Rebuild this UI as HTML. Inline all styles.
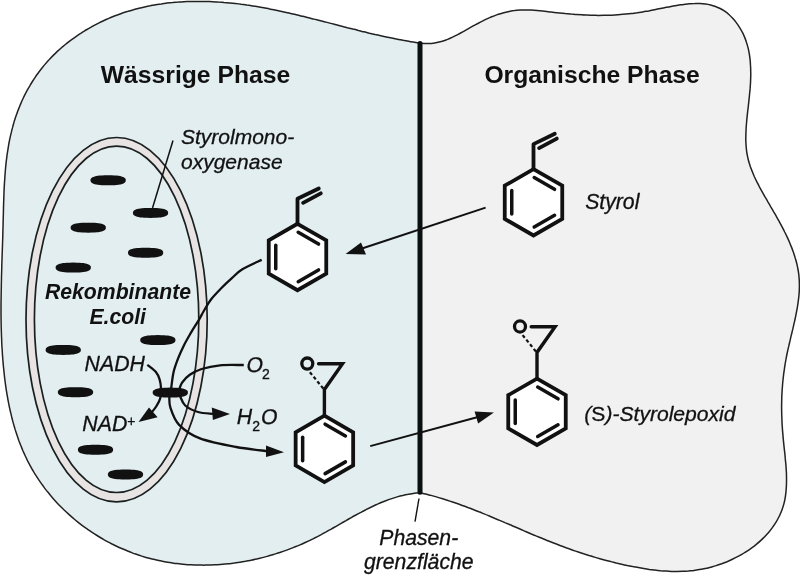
<!DOCTYPE html>
<html><head><meta charset="utf-8"><style>
html,body{margin:0;padding:0;background:#fff;width:800px;height:577px;overflow:hidden}
svg{display:block;will-change:transform}
</style></head><body>
<svg width="800" height="577" viewBox="0 0 800 577">
<path d="M420.0 43.0 C421.0 43.1 423.9 43.5 425.8 43.6 C427.7 43.6 429.6 43.6 431.5 43.4 C433.3 43.2 435.1 43.0 436.9 42.6 C438.7 42.2 440.5 41.7 442.3 41.2 C444.0 40.7 445.8 40.0 447.5 39.4 C449.2 38.7 450.9 37.9 452.6 37.1 C454.3 36.3 456.0 35.5 457.7 34.6 C459.4 33.7 461.1 32.8 462.7 31.9 C464.4 31.0 466.1 30.0 467.7 29.1 C469.4 28.1 471.1 27.2 472.7 26.2 C474.4 25.3 476.1 24.4 477.8 23.5 C479.4 22.6 481.1 21.7 482.8 20.9 C484.5 20.0 486.2 19.2 488.0 18.4 C489.7 17.7 491.4 16.9 493.1 16.3 C494.9 15.6 496.6 14.9 498.4 14.3 C500.1 13.7 501.9 13.2 503.7 12.7 C505.5 12.2 507.3 11.8 509.1 11.4 C510.9 11.1 512.7 10.8 514.5 10.6 C516.4 10.3 518.2 10.2 520.1 10.1 C521.9 10.0 523.8 9.9 525.7 9.9 C527.6 10.0 529.4 10.0 531.3 10.1 C533.2 10.2 535.1 10.4 537.0 10.5 C538.9 10.7 540.8 10.9 542.7 11.1 C544.6 11.3 546.5 11.5 548.4 11.7 C550.3 11.9 552.2 12.2 554.1 12.4 C556.0 12.6 557.9 12.8 559.7 13.0 C561.6 13.2 563.5 13.4 565.3 13.6 C567.2 13.7 569.0 13.9 570.9 14.1 C572.7 14.2 574.5 14.4 576.4 14.5 C578.2 14.6 580.0 14.7 581.9 14.8 C583.7 15.0 585.5 15.0 587.4 15.1 C589.2 15.2 591.0 15.2 592.8 15.3 C594.7 15.3 596.5 15.4 598.3 15.4 C600.1 15.4 602.0 15.4 603.8 15.3 C605.6 15.3 607.5 15.3 609.3 15.2 C611.1 15.2 613.0 15.1 614.8 15.0 C616.7 14.9 618.5 14.8 620.4 14.6 C622.2 14.5 624.1 14.3 625.9 14.1 C627.8 13.9 629.7 13.7 631.6 13.5 C633.4 13.3 635.3 13.0 637.2 12.8 C639.1 12.5 641.0 12.2 642.9 11.9 C644.9 11.6 646.8 11.2 648.7 10.9 C650.7 10.5 652.6 10.1 654.6 9.7 C656.5 9.3 658.5 8.9 660.4 8.5 C662.4 8.1 664.3 7.7 666.3 7.3 C668.2 7.0 670.2 6.6 672.1 6.2 C674.0 5.9 676.0 5.5 677.9 5.2 C679.8 4.9 681.7 4.7 683.6 4.4 C685.5 4.2 687.4 4.0 689.3 3.8 C691.2 3.7 693.0 3.6 694.8 3.6 C696.7 3.5 698.5 3.5 700.3 3.6 C702.0 3.7 703.8 3.9 705.5 4.1 C707.3 4.3 709.0 4.6 710.6 5.0 C712.3 5.4 713.9 5.9 715.5 6.5 C717.1 7.1 718.7 7.8 720.2 8.5 C721.7 9.3 723.2 10.2 724.7 11.2 C726.1 12.2 727.5 13.3 728.9 14.5 C730.2 15.7 731.5 17.0 732.7 18.3 C734.0 19.7 735.2 21.1 736.3 22.6 C737.4 24.1 738.5 25.7 739.5 27.3 C740.5 28.9 741.5 30.5 742.3 32.2 C743.2 33.9 744.0 35.7 744.7 37.4 C745.4 39.2 746.1 41.0 746.6 42.8 C747.2 44.6 747.7 46.5 748.2 48.3 C748.6 50.2 749.0 52.0 749.3 53.9 C749.6 55.8 749.9 57.7 750.1 59.6 C750.3 61.5 750.4 63.5 750.5 65.4 C750.7 67.3 750.7 69.3 750.7 71.2 C750.8 73.2 750.8 75.1 750.7 77.1 C750.7 79.0 750.6 81.0 750.5 83.0 C750.4 84.9 750.2 86.9 750.1 88.9 C749.9 90.8 749.7 92.8 749.5 94.7 C749.4 96.7 749.1 98.6 748.9 100.6 C748.7 102.5 748.5 104.4 748.3 106.4 C748.1 108.3 747.8 110.2 747.6 112.1 C747.4 114.0 747.2 115.9 747.0 117.8 C746.8 119.7 746.6 121.6 746.5 123.5 C746.3 125.3 746.2 127.2 746.1 129.0 C746.0 130.9 745.9 132.7 745.9 134.6 C745.8 136.4 745.8 138.2 745.8 140.1 C745.9 141.9 745.9 143.7 746.1 145.5 C746.2 147.3 746.4 149.1 746.6 150.8 C746.8 152.6 747.1 154.4 747.5 156.1 C747.8 157.9 748.3 159.6 748.7 161.3 C749.2 163.1 749.8 164.8 750.3 166.5 C750.9 168.2 751.6 169.9 752.3 171.6 C752.9 173.3 753.7 175.0 754.4 176.7 C755.2 178.4 756.0 180.1 756.9 181.8 C757.7 183.4 758.6 185.1 759.4 186.8 C760.3 188.5 761.3 190.1 762.2 191.8 C763.1 193.5 764.1 195.1 765.0 196.8 C766.0 198.5 767.0 200.1 767.9 201.8 C768.9 203.4 769.9 205.1 770.8 206.8 C771.8 208.4 772.8 210.1 773.7 211.8 C774.7 213.5 775.7 215.1 776.6 216.8 C777.5 218.5 778.5 220.2 779.4 221.8 C780.3 223.5 781.2 225.2 782.1 226.9 C783.0 228.6 783.9 230.3 784.7 232.0 C785.6 233.7 786.4 235.4 787.2 237.1 C788.0 238.8 788.8 240.5 789.5 242.2 C790.2 244.0 790.9 245.7 791.6 247.4 C792.3 249.1 792.9 250.9 793.5 252.6 C794.1 254.4 794.7 256.1 795.2 257.9 C795.8 259.6 796.2 261.4 796.7 263.2 C797.1 264.9 797.5 266.7 797.8 268.5 C798.2 270.3 798.5 272.1 798.7 273.9 C798.9 275.7 799.1 277.5 799.2 279.3 C799.3 281.1 799.4 283.0 799.4 284.8 C799.4 286.7 799.4 288.5 799.3 290.4 C799.2 292.2 799.1 294.1 798.9 295.9 C798.7 297.8 798.5 299.7 798.2 301.6 C798.0 303.4 797.7 305.3 797.4 307.2 C797.1 309.1 796.7 311.0 796.3 312.9 C796.0 314.8 795.6 316.6 795.2 318.5 C794.8 320.4 794.3 322.3 793.9 324.2 C793.5 326.1 793.0 328.0 792.6 329.9 C792.1 331.8 791.7 333.7 791.2 335.6 C790.8 337.5 790.3 339.4 789.9 341.2 C789.4 343.1 789.0 345.0 788.6 346.9 C788.1 348.7 787.7 350.6 787.3 352.5 C786.9 354.3 786.6 356.2 786.2 358.0 C785.9 359.9 785.5 361.7 785.2 363.6 C784.9 365.4 784.6 367.3 784.4 369.1 C784.1 370.9 783.8 372.7 783.6 374.6 C783.4 376.4 783.2 378.2 783.0 380.0 C782.8 381.9 782.6 383.7 782.5 385.5 C782.4 387.3 782.2 389.2 782.1 391.0 C782.0 392.8 781.9 394.6 781.8 396.5 C781.8 398.3 781.7 400.1 781.7 401.9 C781.6 403.8 781.6 405.6 781.6 407.5 C781.6 409.3 781.7 411.1 781.7 413.0 C781.7 414.9 781.8 416.7 781.9 418.6 C781.9 420.4 782.0 422.3 782.1 424.2 C782.2 426.1 782.4 428.0 782.5 429.9 C782.6 431.8 782.8 433.7 783.0 435.6 C783.1 437.5 783.3 439.4 783.5 441.4 C783.7 443.3 783.9 445.3 784.1 447.2 C784.3 449.2 784.5 451.1 784.8 453.1 C785.0 455.0 785.2 457.0 785.3 458.9 C785.5 460.9 785.7 462.8 785.9 464.8 C786.0 466.7 786.2 468.7 786.3 470.6 C786.4 472.6 786.5 474.5 786.5 476.4 C786.5 478.3 786.6 480.2 786.5 482.1 C786.5 484.0 786.5 485.9 786.3 487.8 C786.2 489.7 786.1 491.5 785.8 493.3 C785.6 495.2 785.4 497.0 785.0 498.8 C784.7 500.6 784.3 502.3 783.8 504.1 C783.4 505.8 782.8 507.5 782.2 509.2 C781.6 510.9 781.0 512.6 780.2 514.2 C779.5 515.8 778.7 517.4 777.8 519.0 C777.0 520.6 776.1 522.2 775.1 523.7 C774.1 525.2 773.1 526.7 772.0 528.1 C770.9 529.6 769.8 531.0 768.6 532.4 C767.4 533.8 766.1 535.2 764.9 536.5 C763.6 537.9 762.2 539.2 760.9 540.4 C759.5 541.7 758.1 542.9 756.6 544.1 C755.2 545.3 753.7 546.5 752.1 547.6 C750.6 548.7 749.1 549.8 747.5 550.9 C745.9 551.9 744.2 552.9 742.6 553.9 C740.9 554.9 739.3 555.8 737.6 556.7 C735.9 557.6 734.1 558.5 732.4 559.3 C730.6 560.1 728.9 560.9 727.1 561.7 C725.3 562.4 723.5 563.1 721.7 563.8 C719.9 564.4 718.0 565.1 716.2 565.6 C714.4 566.2 712.5 566.7 710.7 567.2 C708.8 567.7 707.0 568.2 705.1 568.6 C703.3 569.0 701.4 569.3 699.5 569.6 C697.7 569.9 695.8 570.2 694.0 570.4 C692.1 570.7 690.2 570.8 688.4 571.0 C686.5 571.1 684.7 571.2 682.8 571.3 C680.9 571.4 679.1 571.4 677.2 571.4 C675.3 571.4 673.5 571.4 671.6 571.4 C669.8 571.3 667.9 571.2 666.1 571.1 C664.2 571.0 662.3 570.8 660.5 570.7 C658.6 570.5 656.8 570.3 654.9 570.1 C653.1 569.9 651.2 569.6 649.4 569.4 C647.5 569.1 645.7 568.8 643.8 568.5 C642.0 568.2 640.1 567.9 638.3 567.6 C636.4 567.3 634.6 566.9 632.7 566.6 C630.9 566.2 629.1 565.8 627.2 565.5 C625.4 565.1 623.5 564.7 621.7 564.3 C619.9 563.8 618.1 563.4 616.2 563.0 C614.4 562.5 612.6 562.1 610.8 561.6 C608.9 561.2 607.1 560.7 605.3 560.2 C603.5 559.7 601.7 559.2 599.9 558.7 C598.0 558.2 596.2 557.7 594.4 557.1 C592.6 556.6 590.8 556.0 589.0 555.5 C587.2 554.9 585.4 554.3 583.6 553.8 C581.8 553.2 580.0 552.6 578.3 552.0 C576.5 551.4 574.7 550.8 572.9 550.2 C571.1 549.5 569.4 548.9 567.6 548.3 C565.8 547.6 564.0 547.0 562.3 546.3 C560.5 545.7 558.8 545.0 557.0 544.3 C555.2 543.6 553.5 542.9 551.7 542.2 C550.0 541.6 548.2 540.9 546.5 540.2 C544.7 539.4 543.0 538.7 541.3 538.0 C539.5 537.3 537.8 536.6 536.0 535.9 C534.3 535.1 532.6 534.4 530.8 533.7 C529.1 532.9 527.4 532.2 525.6 531.5 C523.9 530.7 522.2 530.0 520.5 529.2 C518.7 528.5 517.0 527.8 515.3 527.0 C513.5 526.3 511.8 525.5 510.1 524.8 C508.4 524.0 506.6 523.3 504.9 522.6 C503.2 521.8 501.4 521.1 499.7 520.4 C498.0 519.6 496.3 518.9 494.5 518.2 C492.8 517.4 491.1 516.7 489.3 516.0 C487.6 515.3 485.9 514.6 484.1 513.9 C482.4 513.2 480.6 512.4 478.9 511.8 C477.1 511.1 475.4 510.4 473.7 509.7 C471.9 509.0 470.2 508.3 468.4 507.7 C466.7 507.0 464.9 506.4 463.1 505.7 C461.4 505.1 459.6 504.4 457.8 503.8 C456.1 503.2 454.3 502.6 452.5 502.0 C450.7 501.4 449.0 500.8 447.2 500.2 C445.4 499.7 443.6 499.1 441.8 498.5 C440.0 498.0 438.2 497.5 436.4 496.9 C434.6 496.4 432.8 495.9 431.0 495.4 C429.2 494.9 427.3 494.5 425.5 494.0 C423.7 493.6 420.9 492.9 420.0 492.7 Z" fill="#f1f1f1"/>
<path d="M420.0 492.7 C419.0 492.8 416.0 493.1 414.1 493.3 C412.2 493.6 410.2 493.9 408.3 494.3 C406.4 494.6 404.6 495.0 402.7 495.5 C400.9 495.9 399.0 496.4 397.2 496.9 C395.4 497.4 393.6 498.0 391.8 498.6 C390.0 499.2 388.2 499.8 386.4 500.5 C384.7 501.1 382.9 501.8 381.2 502.5 C379.5 503.3 377.7 504.0 376.0 504.8 C374.3 505.6 372.6 506.4 370.9 507.2 C369.2 508.0 367.6 508.8 365.9 509.7 C364.2 510.5 362.5 511.4 360.9 512.3 C359.2 513.2 357.5 514.1 355.9 515.0 C354.2 515.9 352.6 516.8 350.9 517.8 C349.3 518.7 347.6 519.6 346.0 520.6 C344.4 521.5 342.7 522.5 341.1 523.4 C339.4 524.4 337.8 525.3 336.1 526.3 C334.5 527.2 332.8 528.1 331.2 529.1 C329.5 530.0 327.8 530.9 326.2 531.9 C324.5 532.8 322.8 533.7 321.2 534.6 C319.5 535.5 317.8 536.4 316.1 537.3 C314.4 538.1 312.7 539.0 311.0 539.8 C309.2 540.7 307.5 541.5 305.8 542.3 C304.0 543.1 302.3 543.8 300.5 544.6 C298.8 545.4 297.0 546.1 295.2 546.8 C293.4 547.5 291.7 548.2 289.9 548.9 C288.1 549.6 286.3 550.3 284.5 550.9 C282.6 551.5 280.8 552.2 279.0 552.8 C277.2 553.4 275.3 553.9 273.5 554.5 C271.7 555.1 269.8 555.6 268.0 556.1 C266.1 556.6 264.3 557.1 262.4 557.6 C260.5 558.1 258.7 558.5 256.8 558.9 C254.9 559.4 253.1 559.8 251.2 560.2 C249.3 560.6 247.4 560.9 245.5 561.3 C243.6 561.6 241.7 561.9 239.9 562.2 C238.0 562.5 236.1 562.8 234.2 563.1 C232.3 563.3 230.4 563.6 228.5 563.8 C226.6 564.0 224.7 564.2 222.7 564.3 C220.8 564.5 218.9 564.6 217.0 564.7 C215.1 564.8 213.2 564.9 211.3 565.0 C209.4 565.1 207.5 565.1 205.6 565.1 C203.7 565.2 201.8 565.1 199.9 565.1 C198.0 565.1 196.1 565.0 194.2 565.0 C192.3 564.9 190.4 564.8 188.5 564.7 C186.6 564.5 184.7 564.4 182.8 564.2 C180.9 564.0 179.0 563.8 177.1 563.6 C175.2 563.4 173.4 563.1 171.5 562.8 C169.6 562.5 167.7 562.2 165.9 561.9 C164.0 561.6 162.1 561.2 160.3 560.8 C158.4 560.5 156.6 560.0 154.7 559.6 C152.9 559.2 151.0 558.7 149.2 558.2 C147.4 557.7 145.6 557.2 143.7 556.7 C141.9 556.1 140.1 555.6 138.3 555.0 C136.5 554.4 134.7 553.7 132.9 553.1 C131.1 552.4 129.4 551.7 127.6 551.0 C125.8 550.3 124.1 549.6 122.3 548.8 C120.6 548.1 118.8 547.3 117.1 546.5 C115.4 545.7 113.7 544.8 112.0 544.0 C110.3 543.1 108.6 542.2 106.9 541.3 C105.2 540.4 103.5 539.4 101.9 538.5 C100.2 537.5 98.6 536.5 97.0 535.5 C95.3 534.5 93.7 533.5 92.1 532.4 C90.5 531.4 89.0 530.3 87.4 529.2 C85.8 528.1 84.3 527.0 82.7 525.8 C81.2 524.7 79.7 523.5 78.2 522.3 C76.7 521.1 75.2 519.9 73.8 518.7 C72.3 517.4 70.8 516.2 69.4 514.9 C68.0 513.6 66.6 512.3 65.2 511.0 C63.8 509.7 62.4 508.4 61.1 507.0 C59.8 505.7 58.4 504.3 57.1 502.9 C55.8 501.5 54.5 500.1 53.3 498.7 C52.0 497.2 50.8 495.8 49.6 494.3 C48.4 492.8 47.2 491.4 46.0 489.9 C44.8 488.4 43.7 486.8 42.6 485.3 C41.4 483.8 40.4 482.2 39.3 480.6 C38.2 479.1 37.2 477.5 36.2 475.9 C35.1 474.3 34.1 472.7 33.2 471.0 C32.2 469.4 31.3 467.8 30.4 466.1 C29.5 464.4 28.6 462.8 27.7 461.1 C26.9 459.4 26.1 457.7 25.3 456.0 C24.5 454.3 23.7 452.5 22.9 450.8 C22.2 449.0 21.5 447.3 20.8 445.5 C20.1 443.8 19.4 442.0 18.7 440.2 C18.1 438.4 17.5 436.6 16.9 434.8 C16.3 433.0 15.7 431.2 15.1 429.4 C14.6 427.5 14.0 425.7 13.5 423.9 C13.0 422.0 12.5 420.2 12.0 418.3 C11.6 416.5 11.1 414.6 10.7 412.7 C10.2 410.9 9.8 409.0 9.4 407.1 C9.0 405.2 8.6 403.3 8.3 401.5 C7.9 399.6 7.6 397.7 7.3 395.8 C6.9 393.9 6.6 392.0 6.3 390.1 C6.0 388.2 5.7 386.3 5.5 384.4 C5.2 382.5 5.0 380.5 4.7 378.6 C4.5 376.7 4.3 374.8 4.1 372.9 C3.9 371.0 3.7 369.1 3.5 367.2 C3.3 365.3 3.1 363.3 3.0 361.4 C2.8 359.5 2.7 357.6 2.5 355.7 C2.4 353.8 2.3 351.9 2.2 350.0 C2.0 348.1 1.9 346.2 1.8 344.3 C1.7 342.4 1.7 340.5 1.6 338.6 C1.5 336.7 1.4 334.8 1.4 332.9 C1.3 331.0 1.3 329.1 1.2 327.2 C1.2 325.3 1.1 323.4 1.1 321.5 C1.1 319.7 1.1 317.8 1.0 315.9 C1.0 314.0 1.0 312.1 1.0 310.2 C1.0 308.3 1.0 306.4 1.0 304.5 C1.0 302.6 1.1 300.7 1.1 298.8 C1.1 296.9 1.1 295.0 1.2 293.1 C1.2 291.3 1.2 289.4 1.3 287.5 C1.3 285.6 1.3 283.7 1.4 281.8 C1.4 279.9 1.5 278.0 1.5 276.1 C1.6 274.2 1.6 272.3 1.7 270.4 C1.7 268.5 1.8 266.6 1.8 264.7 C1.9 262.8 2.0 260.9 2.0 259.0 C2.1 257.1 2.1 255.2 2.2 253.3 C2.3 251.3 2.3 249.4 2.4 247.5 C2.5 245.6 2.5 243.7 2.6 241.8 C2.6 239.9 2.7 238.0 2.8 236.0 C2.8 234.1 2.9 232.2 2.9 230.3 C3.0 228.4 3.0 226.4 3.1 224.5 C3.1 222.6 3.2 220.6 3.2 218.7 C3.3 216.8 3.3 214.9 3.4 212.9 C3.4 211.0 3.5 209.1 3.5 207.1 C3.6 205.2 3.6 203.2 3.7 201.3 C3.8 199.4 3.8 197.4 3.9 195.5 C4.0 193.6 4.0 191.6 4.1 189.7 C4.2 187.8 4.3 185.9 4.4 183.9 C4.5 182.0 4.7 180.1 4.8 178.2 C4.9 176.2 5.1 174.3 5.2 172.4 C5.4 170.5 5.5 168.6 5.7 166.7 C5.9 164.7 6.1 162.8 6.3 160.9 C6.6 159.0 6.8 157.1 7.0 155.3 C7.3 153.4 7.6 151.5 7.9 149.6 C8.2 147.7 8.5 145.9 8.8 144.0 C9.2 142.1 9.5 140.3 9.9 138.4 C10.3 136.6 10.7 134.7 11.2 132.9 C11.6 131.0 12.1 129.2 12.6 127.4 C13.0 125.6 13.6 123.7 14.1 121.9 C14.7 120.1 15.2 118.3 15.8 116.6 C16.4 114.8 17.1 113.0 17.7 111.2 C18.4 109.5 19.1 107.7 19.8 106.0 C20.5 104.3 21.3 102.5 22.0 100.8 C22.8 99.1 23.6 97.4 24.4 95.7 C25.3 94.0 26.1 92.4 27.0 90.7 C27.9 89.1 28.8 87.4 29.8 85.8 C30.7 84.2 31.7 82.6 32.7 81.0 C33.7 79.4 34.7 77.9 35.8 76.3 C36.9 74.8 38.0 73.2 39.1 71.7 C40.2 70.2 41.4 68.7 42.6 67.2 C43.7 65.8 45.0 64.3 46.2 62.9 C47.5 61.5 48.7 60.1 50.0 58.7 C51.3 57.3 52.7 55.9 54.0 54.6 C55.4 53.3 56.8 51.9 58.2 50.6 C59.6 49.4 61.1 48.1 62.5 46.8 C64.0 45.6 65.5 44.4 67.0 43.2 C68.5 42.0 70.0 40.8 71.6 39.7 C73.1 38.5 74.7 37.4 76.3 36.3 C77.9 35.2 79.5 34.1 81.1 33.1 C82.7 32.0 84.4 31.0 86.0 30.0 C87.7 29.0 89.4 28.0 91.1 27.1 C92.8 26.1 94.5 25.2 96.2 24.3 C97.9 23.4 99.6 22.6 101.4 21.7 C103.1 20.9 104.9 20.1 106.6 19.3 C108.4 18.5 110.1 17.8 111.9 17.0 C113.7 16.3 115.5 15.6 117.3 15.0 C119.0 14.3 120.8 13.6 122.6 13.0 C124.5 12.4 126.3 11.8 128.1 11.3 C129.9 10.7 131.7 10.2 133.5 9.7 C135.4 9.1 137.2 8.7 139.0 8.2 C140.9 7.7 142.7 7.3 144.6 6.9 C146.4 6.5 148.3 6.1 150.1 5.8 C152.0 5.4 153.9 5.1 155.7 4.7 C157.6 4.4 159.5 4.1 161.3 3.9 C163.2 3.6 165.1 3.4 167.0 3.1 C168.8 2.9 170.7 2.7 172.6 2.6 C174.5 2.4 176.4 2.2 178.3 2.1 C180.2 1.9 182.1 1.8 184.0 1.7 C185.9 1.6 187.8 1.6 189.7 1.5 C191.6 1.5 193.5 1.4 195.4 1.4 C197.3 1.4 199.2 1.4 201.1 1.4 C203.0 1.4 204.9 1.5 206.8 1.5 C208.7 1.6 210.6 1.6 212.5 1.7 C214.4 1.8 216.4 1.9 218.3 2.1 C220.2 2.2 222.1 2.3 224.0 2.5 C225.9 2.6 227.8 2.8 229.7 3.0 C231.6 3.2 233.5 3.4 235.4 3.6 C237.3 3.8 239.2 4.0 241.1 4.3 C243.0 4.5 244.9 4.8 246.8 5.1 C248.7 5.3 250.6 5.6 252.5 5.9 C254.4 6.2 256.2 6.5 258.1 6.8 C260.0 7.2 261.9 7.5 263.8 7.8 C265.7 8.2 267.5 8.5 269.4 8.9 C271.3 9.3 273.1 9.6 275.0 10.0 C276.9 10.4 278.8 10.8 280.6 11.2 C282.5 11.6 284.4 12.0 286.2 12.4 C288.1 12.8 289.9 13.3 291.8 13.7 C293.7 14.1 295.5 14.6 297.4 15.0 C299.2 15.4 301.1 15.9 302.9 16.3 C304.8 16.8 306.6 17.3 308.5 17.7 C310.3 18.2 312.2 18.6 314.0 19.1 C315.9 19.6 317.7 20.0 319.6 20.5 C321.4 21.0 323.3 21.5 325.1 21.9 C327.0 22.4 328.8 22.9 330.7 23.4 C332.5 23.9 334.4 24.3 336.2 24.8 C338.1 25.3 339.9 25.8 341.8 26.2 C343.6 26.7 345.5 27.2 347.3 27.7 C349.2 28.1 351.0 28.6 352.9 29.1 C354.7 29.5 356.6 30.0 358.4 30.5 C360.3 30.9 362.1 31.4 364.0 31.8 C365.8 32.3 367.7 32.7 369.5 33.2 C371.4 33.6 373.2 34.0 375.1 34.5 C377.0 34.9 378.8 35.3 380.7 35.7 C382.5 36.1 384.4 36.5 386.3 36.9 C388.1 37.3 390.0 37.7 391.8 38.1 C393.7 38.5 395.6 38.9 397.4 39.2 C399.3 39.6 401.2 39.9 403.1 40.3 C404.9 40.6 406.8 40.9 408.7 41.2 C410.6 41.6 412.5 41.9 414.3 42.2 C416.2 42.5 419.1 42.9 420.0 43.0 Z" fill="#e3eef0"/>
<path d="M420.0 43.0 C421.0 43.1 423.9 43.5 425.8 43.6 C427.7 43.6 429.6 43.6 431.5 43.4 C433.3 43.2 435.1 43.0 436.9 42.6 C438.7 42.2 440.5 41.7 442.3 41.2 C444.0 40.7 445.8 40.0 447.5 39.4 C449.2 38.7 450.9 37.9 452.6 37.1 C454.3 36.3 456.0 35.5 457.7 34.6 C459.4 33.7 461.1 32.8 462.7 31.9 C464.4 31.0 466.1 30.0 467.7 29.1 C469.4 28.1 471.1 27.2 472.7 26.2 C474.4 25.3 476.1 24.4 477.8 23.5 C479.4 22.6 481.1 21.7 482.8 20.9 C484.5 20.0 486.2 19.2 488.0 18.4 C489.7 17.7 491.4 16.9 493.1 16.3 C494.9 15.6 496.6 14.9 498.4 14.3 C500.1 13.7 501.9 13.2 503.7 12.7 C505.5 12.2 507.3 11.8 509.1 11.4 C510.9 11.1 512.7 10.8 514.5 10.6 C516.4 10.3 518.2 10.2 520.1 10.1 C521.9 10.0 523.8 9.9 525.7 9.9 C527.6 10.0 529.4 10.0 531.3 10.1 C533.2 10.2 535.1 10.4 537.0 10.5 C538.9 10.7 540.8 10.9 542.7 11.1 C544.6 11.3 546.5 11.5 548.4 11.7 C550.3 11.9 552.2 12.2 554.1 12.4 C556.0 12.6 557.9 12.8 559.7 13.0 C561.6 13.2 563.5 13.4 565.3 13.6 C567.2 13.7 569.0 13.9 570.9 14.1 C572.7 14.2 574.5 14.4 576.4 14.5 C578.2 14.6 580.0 14.7 581.9 14.8 C583.7 15.0 585.5 15.0 587.4 15.1 C589.2 15.2 591.0 15.2 592.8 15.3 C594.7 15.3 596.5 15.4 598.3 15.4 C600.1 15.4 602.0 15.4 603.8 15.3 C605.6 15.3 607.5 15.3 609.3 15.2 C611.1 15.2 613.0 15.1 614.8 15.0 C616.7 14.9 618.5 14.8 620.4 14.6 C622.2 14.5 624.1 14.3 625.9 14.1 C627.8 13.9 629.7 13.7 631.6 13.5 C633.4 13.3 635.3 13.0 637.2 12.8 C639.1 12.5 641.0 12.2 642.9 11.9 C644.9 11.6 646.8 11.2 648.7 10.9 C650.7 10.5 652.6 10.1 654.6 9.7 C656.5 9.3 658.5 8.9 660.4 8.5 C662.4 8.1 664.3 7.7 666.3 7.3 C668.2 7.0 670.2 6.6 672.1 6.2 C674.0 5.9 676.0 5.5 677.9 5.2 C679.8 4.9 681.7 4.7 683.6 4.4 C685.5 4.2 687.4 4.0 689.3 3.8 C691.2 3.7 693.0 3.6 694.8 3.6 C696.7 3.5 698.5 3.5 700.3 3.6 C702.0 3.7 703.8 3.9 705.5 4.1 C707.3 4.3 709.0 4.6 710.6 5.0 C712.3 5.4 713.9 5.9 715.5 6.5 C717.1 7.1 718.7 7.8 720.2 8.5 C721.7 9.3 723.2 10.2 724.7 11.2 C726.1 12.2 727.5 13.3 728.9 14.5 C730.2 15.7 731.5 17.0 732.7 18.3 C734.0 19.7 735.2 21.1 736.3 22.6 C737.4 24.1 738.5 25.7 739.5 27.3 C740.5 28.9 741.5 30.5 742.3 32.2 C743.2 33.9 744.0 35.7 744.7 37.4 C745.4 39.2 746.1 41.0 746.6 42.8 C747.2 44.6 747.7 46.5 748.2 48.3 C748.6 50.2 749.0 52.0 749.3 53.9 C749.6 55.8 749.9 57.7 750.1 59.6 C750.3 61.5 750.4 63.5 750.5 65.4 C750.7 67.3 750.7 69.3 750.7 71.2 C750.8 73.2 750.8 75.1 750.7 77.1 C750.7 79.0 750.6 81.0 750.5 83.0 C750.4 84.9 750.2 86.9 750.1 88.9 C749.9 90.8 749.7 92.8 749.5 94.7 C749.4 96.7 749.1 98.6 748.9 100.6 C748.7 102.5 748.5 104.4 748.3 106.4 C748.1 108.3 747.8 110.2 747.6 112.1 C747.4 114.0 747.2 115.9 747.0 117.8 C746.8 119.7 746.6 121.6 746.5 123.5 C746.3 125.3 746.2 127.2 746.1 129.0 C746.0 130.9 745.9 132.7 745.9 134.6 C745.8 136.4 745.8 138.2 745.8 140.1 C745.9 141.9 745.9 143.7 746.1 145.5 C746.2 147.3 746.4 149.1 746.6 150.8 C746.8 152.6 747.1 154.4 747.5 156.1 C747.8 157.9 748.3 159.6 748.7 161.3 C749.2 163.1 749.8 164.8 750.3 166.5 C750.9 168.2 751.6 169.9 752.3 171.6 C752.9 173.3 753.7 175.0 754.4 176.7 C755.2 178.4 756.0 180.1 756.9 181.8 C757.7 183.4 758.6 185.1 759.4 186.8 C760.3 188.5 761.3 190.1 762.2 191.8 C763.1 193.5 764.1 195.1 765.0 196.8 C766.0 198.5 767.0 200.1 767.9 201.8 C768.9 203.4 769.9 205.1 770.8 206.8 C771.8 208.4 772.8 210.1 773.7 211.8 C774.7 213.5 775.7 215.1 776.6 216.8 C777.5 218.5 778.5 220.2 779.4 221.8 C780.3 223.5 781.2 225.2 782.1 226.9 C783.0 228.6 783.9 230.3 784.7 232.0 C785.6 233.7 786.4 235.4 787.2 237.1 C788.0 238.8 788.8 240.5 789.5 242.2 C790.2 244.0 790.9 245.7 791.6 247.4 C792.3 249.1 792.9 250.9 793.5 252.6 C794.1 254.4 794.7 256.1 795.2 257.9 C795.8 259.6 796.2 261.4 796.7 263.2 C797.1 264.9 797.5 266.7 797.8 268.5 C798.2 270.3 798.5 272.1 798.7 273.9 C798.9 275.7 799.1 277.5 799.2 279.3 C799.3 281.1 799.4 283.0 799.4 284.8 C799.4 286.7 799.4 288.5 799.3 290.4 C799.2 292.2 799.1 294.1 798.9 295.9 C798.7 297.8 798.5 299.7 798.2 301.6 C798.0 303.4 797.7 305.3 797.4 307.2 C797.1 309.1 796.7 311.0 796.3 312.9 C796.0 314.8 795.6 316.6 795.2 318.5 C794.8 320.4 794.3 322.3 793.9 324.2 C793.5 326.1 793.0 328.0 792.6 329.9 C792.1 331.8 791.7 333.7 791.2 335.6 C790.8 337.5 790.3 339.4 789.9 341.2 C789.4 343.1 789.0 345.0 788.6 346.9 C788.1 348.7 787.7 350.6 787.3 352.5 C786.9 354.3 786.6 356.2 786.2 358.0 C785.9 359.9 785.5 361.7 785.2 363.6 C784.9 365.4 784.6 367.3 784.4 369.1 C784.1 370.9 783.8 372.7 783.6 374.6 C783.4 376.4 783.2 378.2 783.0 380.0 C782.8 381.9 782.6 383.7 782.5 385.5 C782.4 387.3 782.2 389.2 782.1 391.0 C782.0 392.8 781.9 394.6 781.8 396.5 C781.8 398.3 781.7 400.1 781.7 401.9 C781.6 403.8 781.6 405.6 781.6 407.5 C781.6 409.3 781.7 411.1 781.7 413.0 C781.7 414.9 781.8 416.7 781.9 418.6 C781.9 420.4 782.0 422.3 782.1 424.2 C782.2 426.1 782.4 428.0 782.5 429.9 C782.6 431.8 782.8 433.7 783.0 435.6 C783.1 437.5 783.3 439.4 783.5 441.4 C783.7 443.3 783.9 445.3 784.1 447.2 C784.3 449.2 784.5 451.1 784.8 453.1 C785.0 455.0 785.2 457.0 785.3 458.9 C785.5 460.9 785.7 462.8 785.9 464.8 C786.0 466.7 786.2 468.7 786.3 470.6 C786.4 472.6 786.5 474.5 786.5 476.4 C786.5 478.3 786.6 480.2 786.5 482.1 C786.5 484.0 786.5 485.9 786.3 487.8 C786.2 489.7 786.1 491.5 785.8 493.3 C785.6 495.2 785.4 497.0 785.0 498.8 C784.7 500.6 784.3 502.3 783.8 504.1 C783.4 505.8 782.8 507.5 782.2 509.2 C781.6 510.9 781.0 512.6 780.2 514.2 C779.5 515.8 778.7 517.4 777.8 519.0 C777.0 520.6 776.1 522.2 775.1 523.7 C774.1 525.2 773.1 526.7 772.0 528.1 C770.9 529.6 769.8 531.0 768.6 532.4 C767.4 533.8 766.1 535.2 764.9 536.5 C763.6 537.9 762.2 539.2 760.9 540.4 C759.5 541.7 758.1 542.9 756.6 544.1 C755.2 545.3 753.7 546.5 752.1 547.6 C750.6 548.7 749.1 549.8 747.5 550.9 C745.9 551.9 744.2 552.9 742.6 553.9 C740.9 554.9 739.3 555.8 737.6 556.7 C735.9 557.6 734.1 558.5 732.4 559.3 C730.6 560.1 728.9 560.9 727.1 561.7 C725.3 562.4 723.5 563.1 721.7 563.8 C719.9 564.4 718.0 565.1 716.2 565.6 C714.4 566.2 712.5 566.7 710.7 567.2 C708.8 567.7 707.0 568.2 705.1 568.6 C703.3 569.0 701.4 569.3 699.5 569.6 C697.7 569.9 695.8 570.2 694.0 570.4 C692.1 570.7 690.2 570.8 688.4 571.0 C686.5 571.1 684.7 571.2 682.8 571.3 C680.9 571.4 679.1 571.4 677.2 571.4 C675.3 571.4 673.5 571.4 671.6 571.4 C669.8 571.3 667.9 571.2 666.1 571.1 C664.2 571.0 662.3 570.8 660.5 570.7 C658.6 570.5 656.8 570.3 654.9 570.1 C653.1 569.9 651.2 569.6 649.4 569.4 C647.5 569.1 645.7 568.8 643.8 568.5 C642.0 568.2 640.1 567.9 638.3 567.6 C636.4 567.3 634.6 566.9 632.7 566.6 C630.9 566.2 629.1 565.8 627.2 565.5 C625.4 565.1 623.5 564.7 621.7 564.3 C619.9 563.8 618.1 563.4 616.2 563.0 C614.4 562.5 612.6 562.1 610.8 561.6 C608.9 561.2 607.1 560.7 605.3 560.2 C603.5 559.7 601.7 559.2 599.9 558.7 C598.0 558.2 596.2 557.7 594.4 557.1 C592.6 556.6 590.8 556.0 589.0 555.5 C587.2 554.9 585.4 554.3 583.6 553.8 C581.8 553.2 580.0 552.6 578.3 552.0 C576.5 551.4 574.7 550.8 572.9 550.2 C571.1 549.5 569.4 548.9 567.6 548.3 C565.8 547.6 564.0 547.0 562.3 546.3 C560.5 545.7 558.8 545.0 557.0 544.3 C555.2 543.6 553.5 542.9 551.7 542.2 C550.0 541.6 548.2 540.9 546.5 540.2 C544.7 539.4 543.0 538.7 541.3 538.0 C539.5 537.3 537.8 536.6 536.0 535.9 C534.3 535.1 532.6 534.4 530.8 533.7 C529.1 532.9 527.4 532.2 525.6 531.5 C523.9 530.7 522.2 530.0 520.5 529.2 C518.7 528.5 517.0 527.8 515.3 527.0 C513.5 526.3 511.8 525.5 510.1 524.8 C508.4 524.0 506.6 523.3 504.9 522.6 C503.2 521.8 501.4 521.1 499.7 520.4 C498.0 519.6 496.3 518.9 494.5 518.2 C492.8 517.4 491.1 516.7 489.3 516.0 C487.6 515.3 485.9 514.6 484.1 513.9 C482.4 513.2 480.6 512.4 478.9 511.8 C477.1 511.1 475.4 510.4 473.7 509.7 C471.9 509.0 470.2 508.3 468.4 507.7 C466.7 507.0 464.9 506.4 463.1 505.7 C461.4 505.1 459.6 504.4 457.8 503.8 C456.1 503.2 454.3 502.6 452.5 502.0 C450.7 501.4 449.0 500.8 447.2 500.2 C445.4 499.7 443.6 499.1 441.8 498.5 C440.0 498.0 438.2 497.5 436.4 496.9 C434.6 496.4 432.8 495.9 431.0 495.4 C429.2 494.9 427.3 494.5 425.5 494.0 C423.7 493.6 420.9 492.9 420.0 492.7" fill="none" stroke="#222" stroke-width="1.5"/>
<path d="M420.0 492.7 C419.0 492.8 416.0 493.1 414.1 493.3 C412.2 493.6 410.2 493.9 408.3 494.3 C406.4 494.6 404.6 495.0 402.7 495.5 C400.9 495.9 399.0 496.4 397.2 496.9 C395.4 497.4 393.6 498.0 391.8 498.6 C390.0 499.2 388.2 499.8 386.4 500.5 C384.7 501.1 382.9 501.8 381.2 502.5 C379.5 503.3 377.7 504.0 376.0 504.8 C374.3 505.6 372.6 506.4 370.9 507.2 C369.2 508.0 367.6 508.8 365.9 509.7 C364.2 510.5 362.5 511.4 360.9 512.3 C359.2 513.2 357.5 514.1 355.9 515.0 C354.2 515.9 352.6 516.8 350.9 517.8 C349.3 518.7 347.6 519.6 346.0 520.6 C344.4 521.5 342.7 522.5 341.1 523.4 C339.4 524.4 337.8 525.3 336.1 526.3 C334.5 527.2 332.8 528.1 331.2 529.1 C329.5 530.0 327.8 530.9 326.2 531.9 C324.5 532.8 322.8 533.7 321.2 534.6 C319.5 535.5 317.8 536.4 316.1 537.3 C314.4 538.1 312.7 539.0 311.0 539.8 C309.2 540.7 307.5 541.5 305.8 542.3 C304.0 543.1 302.3 543.8 300.5 544.6 C298.8 545.4 297.0 546.1 295.2 546.8 C293.4 547.5 291.7 548.2 289.9 548.9 C288.1 549.6 286.3 550.3 284.5 550.9 C282.6 551.5 280.8 552.2 279.0 552.8 C277.2 553.4 275.3 553.9 273.5 554.5 C271.7 555.1 269.8 555.6 268.0 556.1 C266.1 556.6 264.3 557.1 262.4 557.6 C260.5 558.1 258.7 558.5 256.8 558.9 C254.9 559.4 253.1 559.8 251.2 560.2 C249.3 560.6 247.4 560.9 245.5 561.3 C243.6 561.6 241.7 561.9 239.9 562.2 C238.0 562.5 236.1 562.8 234.2 563.1 C232.3 563.3 230.4 563.6 228.5 563.8 C226.6 564.0 224.7 564.2 222.7 564.3 C220.8 564.5 218.9 564.6 217.0 564.7 C215.1 564.8 213.2 564.9 211.3 565.0 C209.4 565.1 207.5 565.1 205.6 565.1 C203.7 565.2 201.8 565.1 199.9 565.1 C198.0 565.1 196.1 565.0 194.2 565.0 C192.3 564.9 190.4 564.8 188.5 564.7 C186.6 564.5 184.7 564.4 182.8 564.2 C180.9 564.0 179.0 563.8 177.1 563.6 C175.2 563.4 173.4 563.1 171.5 562.8 C169.6 562.5 167.7 562.2 165.9 561.9 C164.0 561.6 162.1 561.2 160.3 560.8 C158.4 560.5 156.6 560.0 154.7 559.6 C152.9 559.2 151.0 558.7 149.2 558.2 C147.4 557.7 145.6 557.2 143.7 556.7 C141.9 556.1 140.1 555.6 138.3 555.0 C136.5 554.4 134.7 553.7 132.9 553.1 C131.1 552.4 129.4 551.7 127.6 551.0 C125.8 550.3 124.1 549.6 122.3 548.8 C120.6 548.1 118.8 547.3 117.1 546.5 C115.4 545.7 113.7 544.8 112.0 544.0 C110.3 543.1 108.6 542.2 106.9 541.3 C105.2 540.4 103.5 539.4 101.9 538.5 C100.2 537.5 98.6 536.5 97.0 535.5 C95.3 534.5 93.7 533.5 92.1 532.4 C90.5 531.4 89.0 530.3 87.4 529.2 C85.8 528.1 84.3 527.0 82.7 525.8 C81.2 524.7 79.7 523.5 78.2 522.3 C76.7 521.1 75.2 519.9 73.8 518.7 C72.3 517.4 70.8 516.2 69.4 514.9 C68.0 513.6 66.6 512.3 65.2 511.0 C63.8 509.7 62.4 508.4 61.1 507.0 C59.8 505.7 58.4 504.3 57.1 502.9 C55.8 501.5 54.5 500.1 53.3 498.7 C52.0 497.2 50.8 495.8 49.6 494.3 C48.4 492.8 47.2 491.4 46.0 489.9 C44.8 488.4 43.7 486.8 42.6 485.3 C41.4 483.8 40.4 482.2 39.3 480.6 C38.2 479.1 37.2 477.5 36.2 475.9 C35.1 474.3 34.1 472.7 33.2 471.0 C32.2 469.4 31.3 467.8 30.4 466.1 C29.5 464.4 28.6 462.8 27.7 461.1 C26.9 459.4 26.1 457.7 25.3 456.0 C24.5 454.3 23.7 452.5 22.9 450.8 C22.2 449.0 21.5 447.3 20.8 445.5 C20.1 443.8 19.4 442.0 18.7 440.2 C18.1 438.4 17.5 436.6 16.9 434.8 C16.3 433.0 15.7 431.2 15.1 429.4 C14.6 427.5 14.0 425.7 13.5 423.9 C13.0 422.0 12.5 420.2 12.0 418.3 C11.6 416.5 11.1 414.6 10.7 412.7 C10.2 410.9 9.8 409.0 9.4 407.1 C9.0 405.2 8.6 403.3 8.3 401.5 C7.9 399.6 7.6 397.7 7.3 395.8 C6.9 393.9 6.6 392.0 6.3 390.1 C6.0 388.2 5.7 386.3 5.5 384.4 C5.2 382.5 5.0 380.5 4.7 378.6 C4.5 376.7 4.3 374.8 4.1 372.9 C3.9 371.0 3.7 369.1 3.5 367.2 C3.3 365.3 3.1 363.3 3.0 361.4 C2.8 359.5 2.7 357.6 2.5 355.7 C2.4 353.8 2.3 351.9 2.2 350.0 C2.0 348.1 1.9 346.2 1.8 344.3 C1.7 342.4 1.7 340.5 1.6 338.6 C1.5 336.7 1.4 334.8 1.4 332.9 C1.3 331.0 1.3 329.1 1.2 327.2 C1.2 325.3 1.1 323.4 1.1 321.5 C1.1 319.7 1.1 317.8 1.0 315.9 C1.0 314.0 1.0 312.1 1.0 310.2 C1.0 308.3 1.0 306.4 1.0 304.5 C1.0 302.6 1.1 300.7 1.1 298.8 C1.1 296.9 1.1 295.0 1.2 293.1 C1.2 291.3 1.2 289.4 1.3 287.5 C1.3 285.6 1.3 283.7 1.4 281.8 C1.4 279.9 1.5 278.0 1.5 276.1 C1.6 274.2 1.6 272.3 1.7 270.4 C1.7 268.5 1.8 266.6 1.8 264.7 C1.9 262.8 2.0 260.9 2.0 259.0 C2.1 257.1 2.1 255.2 2.2 253.3 C2.3 251.3 2.3 249.4 2.4 247.5 C2.5 245.6 2.5 243.7 2.6 241.8 C2.6 239.9 2.7 238.0 2.8 236.0 C2.8 234.1 2.9 232.2 2.9 230.3 C3.0 228.4 3.0 226.4 3.1 224.5 C3.1 222.6 3.2 220.6 3.2 218.7 C3.3 216.8 3.3 214.9 3.4 212.9 C3.4 211.0 3.5 209.1 3.5 207.1 C3.6 205.2 3.6 203.2 3.7 201.3 C3.8 199.4 3.8 197.4 3.9 195.5 C4.0 193.6 4.0 191.6 4.1 189.7 C4.2 187.8 4.3 185.9 4.4 183.9 C4.5 182.0 4.7 180.1 4.8 178.2 C4.9 176.2 5.1 174.3 5.2 172.4 C5.4 170.5 5.5 168.6 5.7 166.7 C5.9 164.7 6.1 162.8 6.3 160.9 C6.6 159.0 6.8 157.1 7.0 155.3 C7.3 153.4 7.6 151.5 7.9 149.6 C8.2 147.7 8.5 145.9 8.8 144.0 C9.2 142.1 9.5 140.3 9.9 138.4 C10.3 136.6 10.7 134.7 11.2 132.9 C11.6 131.0 12.1 129.2 12.6 127.4 C13.0 125.6 13.6 123.7 14.1 121.9 C14.7 120.1 15.2 118.3 15.8 116.6 C16.4 114.8 17.1 113.0 17.7 111.2 C18.4 109.5 19.1 107.7 19.8 106.0 C20.5 104.3 21.3 102.5 22.0 100.8 C22.8 99.1 23.6 97.4 24.4 95.7 C25.3 94.0 26.1 92.4 27.0 90.7 C27.9 89.1 28.8 87.4 29.8 85.8 C30.7 84.2 31.7 82.6 32.7 81.0 C33.7 79.4 34.7 77.9 35.8 76.3 C36.9 74.8 38.0 73.2 39.1 71.7 C40.2 70.2 41.4 68.7 42.6 67.2 C43.7 65.8 45.0 64.3 46.2 62.9 C47.5 61.5 48.7 60.1 50.0 58.7 C51.3 57.3 52.7 55.9 54.0 54.6 C55.4 53.3 56.8 51.9 58.2 50.6 C59.6 49.4 61.1 48.1 62.5 46.8 C64.0 45.6 65.5 44.4 67.0 43.2 C68.5 42.0 70.0 40.8 71.6 39.7 C73.1 38.5 74.7 37.4 76.3 36.3 C77.9 35.2 79.5 34.1 81.1 33.1 C82.7 32.0 84.4 31.0 86.0 30.0 C87.7 29.0 89.4 28.0 91.1 27.1 C92.8 26.1 94.5 25.2 96.2 24.3 C97.9 23.4 99.6 22.6 101.4 21.7 C103.1 20.9 104.9 20.1 106.6 19.3 C108.4 18.5 110.1 17.8 111.9 17.0 C113.7 16.3 115.5 15.6 117.3 15.0 C119.0 14.3 120.8 13.6 122.6 13.0 C124.5 12.4 126.3 11.8 128.1 11.3 C129.9 10.7 131.7 10.2 133.5 9.7 C135.4 9.1 137.2 8.7 139.0 8.2 C140.9 7.7 142.7 7.3 144.6 6.9 C146.4 6.5 148.3 6.1 150.1 5.8 C152.0 5.4 153.9 5.1 155.7 4.7 C157.6 4.4 159.5 4.1 161.3 3.9 C163.2 3.6 165.1 3.4 167.0 3.1 C168.8 2.9 170.7 2.7 172.6 2.6 C174.5 2.4 176.4 2.2 178.3 2.1 C180.2 1.9 182.1 1.8 184.0 1.7 C185.9 1.6 187.8 1.6 189.7 1.5 C191.6 1.5 193.5 1.4 195.4 1.4 C197.3 1.4 199.2 1.4 201.1 1.4 C203.0 1.4 204.9 1.5 206.8 1.5 C208.7 1.6 210.6 1.6 212.5 1.7 C214.4 1.8 216.4 1.9 218.3 2.1 C220.2 2.2 222.1 2.3 224.0 2.5 C225.9 2.6 227.8 2.8 229.7 3.0 C231.6 3.2 233.5 3.4 235.4 3.6 C237.3 3.8 239.2 4.0 241.1 4.3 C243.0 4.5 244.9 4.8 246.8 5.1 C248.7 5.3 250.6 5.6 252.5 5.9 C254.4 6.2 256.2 6.5 258.1 6.8 C260.0 7.2 261.9 7.5 263.8 7.8 C265.7 8.2 267.5 8.5 269.4 8.9 C271.3 9.3 273.1 9.6 275.0 10.0 C276.9 10.4 278.8 10.8 280.6 11.2 C282.5 11.6 284.4 12.0 286.2 12.4 C288.1 12.8 289.9 13.3 291.8 13.7 C293.7 14.1 295.5 14.6 297.4 15.0 C299.2 15.4 301.1 15.9 302.9 16.3 C304.8 16.8 306.6 17.3 308.5 17.7 C310.3 18.2 312.2 18.6 314.0 19.1 C315.9 19.6 317.7 20.0 319.6 20.5 C321.4 21.0 323.3 21.5 325.1 21.9 C327.0 22.4 328.8 22.9 330.7 23.4 C332.5 23.9 334.4 24.3 336.2 24.8 C338.1 25.3 339.9 25.8 341.8 26.2 C343.6 26.7 345.5 27.2 347.3 27.7 C349.2 28.1 351.0 28.6 352.9 29.1 C354.7 29.5 356.6 30.0 358.4 30.5 C360.3 30.9 362.1 31.4 364.0 31.8 C365.8 32.3 367.7 32.7 369.5 33.2 C371.4 33.6 373.2 34.0 375.1 34.5 C377.0 34.9 378.8 35.3 380.7 35.7 C382.5 36.1 384.4 36.5 386.3 36.9 C388.1 37.3 390.0 37.7 391.8 38.1 C393.7 38.5 395.6 38.9 397.4 39.2 C399.3 39.6 401.2 39.9 403.1 40.3 C404.9 40.6 406.8 40.9 408.7 41.2 C410.6 41.6 412.5 41.9 414.3 42.2 C416.2 42.5 419.1 42.9 420.0 43.0" fill="none" stroke="#222" stroke-width="1.5"/>
<ellipse cx="116.6" cy="319.7" rx="90.6" ry="182.2" fill="#e8e4e3" stroke="#1a1f1f" stroke-width="1.7"/>
<ellipse cx="116.6" cy="319.3" rx="82.2" ry="173.2" fill="#e3eef0" stroke="#1a1f1f" stroke-width="1.7"/>
<path transform="translate(108.15,180.3)" d="M17.60 0.00 L17.48 1.04 L17.14 1.77 L16.56 2.39 L15.76 2.93 L14.73 3.41 L13.48 3.83 L12.01 4.18 L10.33 4.48 L8.41 4.70 L6.22 4.87 L3.68 4.97 L0.00 5.00 L-3.68 4.97 L-6.22 4.87 L-8.41 4.70 L-10.33 4.48 L-12.01 4.18 L-13.48 3.83 L-14.73 3.41 L-15.76 2.93 L-16.56 2.39 L-17.14 1.77 L-17.48 1.04 L-17.60 0.00 L-17.48 -1.04 L-17.14 -1.77 L-16.56 -2.39 L-15.76 -2.93 L-14.73 -3.41 L-13.48 -3.83 L-12.01 -4.18 L-10.33 -4.48 L-8.41 -4.70 L-6.22 -4.87 L-3.68 -4.97 L-0.00 -5.00 L3.68 -4.97 L6.22 -4.87 L8.41 -4.70 L10.33 -4.48 L12.01 -4.18 L13.48 -3.83 L14.73 -3.41 L15.76 -2.93 L16.56 -2.39 L17.14 -1.77 L17.48 -1.04 Z" fill="#111"/>
<path transform="translate(150.55,212.9)" d="M17.60 0.00 L17.48 1.04 L17.14 1.77 L16.56 2.39 L15.76 2.93 L14.73 3.41 L13.48 3.83 L12.01 4.18 L10.33 4.48 L8.41 4.70 L6.22 4.87 L3.68 4.97 L0.00 5.00 L-3.68 4.97 L-6.22 4.87 L-8.41 4.70 L-10.33 4.48 L-12.01 4.18 L-13.48 3.83 L-14.73 3.41 L-15.76 2.93 L-16.56 2.39 L-17.14 1.77 L-17.48 1.04 L-17.60 0.00 L-17.48 -1.04 L-17.14 -1.77 L-16.56 -2.39 L-15.76 -2.93 L-14.73 -3.41 L-13.48 -3.83 L-12.01 -4.18 L-10.33 -4.48 L-8.41 -4.70 L-6.22 -4.87 L-3.68 -4.97 L-0.00 -5.00 L3.68 -4.97 L6.22 -4.87 L8.41 -4.70 L10.33 -4.48 L12.01 -4.18 L13.48 -3.83 L14.73 -3.41 L15.76 -2.93 L16.56 -2.39 L17.14 -1.77 L17.48 -1.04 Z" fill="#111"/>
<path transform="translate(88.25,227.65)" d="M17.60 0.00 L17.48 1.04 L17.14 1.77 L16.56 2.39 L15.76 2.93 L14.73 3.41 L13.48 3.83 L12.01 4.18 L10.33 4.48 L8.41 4.70 L6.22 4.87 L3.68 4.97 L0.00 5.00 L-3.68 4.97 L-6.22 4.87 L-8.41 4.70 L-10.33 4.48 L-12.01 4.18 L-13.48 3.83 L-14.73 3.41 L-15.76 2.93 L-16.56 2.39 L-17.14 1.77 L-17.48 1.04 L-17.60 0.00 L-17.48 -1.04 L-17.14 -1.77 L-16.56 -2.39 L-15.76 -2.93 L-14.73 -3.41 L-13.48 -3.83 L-12.01 -4.18 L-10.33 -4.48 L-8.41 -4.70 L-6.22 -4.87 L-3.68 -4.97 L-0.00 -5.00 L3.68 -4.97 L6.22 -4.87 L8.41 -4.70 L10.33 -4.48 L12.01 -4.18 L13.48 -3.83 L14.73 -3.41 L15.76 -2.93 L16.56 -2.39 L17.14 -1.77 L17.48 -1.04 Z" fill="#111"/>
<path transform="translate(145.6,252.75)" d="M17.60 0.00 L17.48 1.04 L17.14 1.77 L16.56 2.39 L15.76 2.93 L14.73 3.41 L13.48 3.83 L12.01 4.18 L10.33 4.48 L8.41 4.70 L6.22 4.87 L3.68 4.97 L0.00 5.00 L-3.68 4.97 L-6.22 4.87 L-8.41 4.70 L-10.33 4.48 L-12.01 4.18 L-13.48 3.83 L-14.73 3.41 L-15.76 2.93 L-16.56 2.39 L-17.14 1.77 L-17.48 1.04 L-17.60 0.00 L-17.48 -1.04 L-17.14 -1.77 L-16.56 -2.39 L-15.76 -2.93 L-14.73 -3.41 L-13.48 -3.83 L-12.01 -4.18 L-10.33 -4.48 L-8.41 -4.70 L-6.22 -4.87 L-3.68 -4.97 L-0.00 -5.00 L3.68 -4.97 L6.22 -4.87 L8.41 -4.70 L10.33 -4.48 L12.01 -4.18 L13.48 -3.83 L14.73 -3.41 L15.76 -2.93 L16.56 -2.39 L17.14 -1.77 L17.48 -1.04 Z" fill="#111"/>
<path transform="translate(73.25,267.6)" d="M17.60 0.00 L17.48 1.04 L17.14 1.77 L16.56 2.39 L15.76 2.93 L14.73 3.41 L13.48 3.83 L12.01 4.18 L10.33 4.48 L8.41 4.70 L6.22 4.87 L3.68 4.97 L0.00 5.00 L-3.68 4.97 L-6.22 4.87 L-8.41 4.70 L-10.33 4.48 L-12.01 4.18 L-13.48 3.83 L-14.73 3.41 L-15.76 2.93 L-16.56 2.39 L-17.14 1.77 L-17.48 1.04 L-17.60 0.00 L-17.48 -1.04 L-17.14 -1.77 L-16.56 -2.39 L-15.76 -2.93 L-14.73 -3.41 L-13.48 -3.83 L-12.01 -4.18 L-10.33 -4.48 L-8.41 -4.70 L-6.22 -4.87 L-3.68 -4.97 L-0.00 -5.00 L3.68 -4.97 L6.22 -4.87 L8.41 -4.70 L10.33 -4.48 L12.01 -4.18 L13.48 -3.83 L14.73 -3.41 L15.76 -2.93 L16.56 -2.39 L17.14 -1.77 L17.48 -1.04 Z" fill="#111"/>
<path transform="translate(63.25,349.9)" d="M17.60 0.00 L17.48 1.04 L17.14 1.77 L16.56 2.39 L15.76 2.93 L14.73 3.41 L13.48 3.83 L12.01 4.18 L10.33 4.48 L8.41 4.70 L6.22 4.87 L3.68 4.97 L0.00 5.00 L-3.68 4.97 L-6.22 4.87 L-8.41 4.70 L-10.33 4.48 L-12.01 4.18 L-13.48 3.83 L-14.73 3.41 L-15.76 2.93 L-16.56 2.39 L-17.14 1.77 L-17.48 1.04 L-17.60 0.00 L-17.48 -1.04 L-17.14 -1.77 L-16.56 -2.39 L-15.76 -2.93 L-14.73 -3.41 L-13.48 -3.83 L-12.01 -4.18 L-10.33 -4.48 L-8.41 -4.70 L-6.22 -4.87 L-3.68 -4.97 L-0.00 -5.00 L3.68 -4.97 L6.22 -4.87 L8.41 -4.70 L10.33 -4.48 L12.01 -4.18 L13.48 -3.83 L14.73 -3.41 L15.76 -2.93 L16.56 -2.39 L17.14 -1.77 L17.48 -1.04 Z" fill="#111"/>
<path transform="translate(157.85,340.1)" d="M17.60 0.00 L17.48 1.04 L17.14 1.77 L16.56 2.39 L15.76 2.93 L14.73 3.41 L13.48 3.83 L12.01 4.18 L10.33 4.48 L8.41 4.70 L6.22 4.87 L3.68 4.97 L0.00 5.00 L-3.68 4.97 L-6.22 4.87 L-8.41 4.70 L-10.33 4.48 L-12.01 4.18 L-13.48 3.83 L-14.73 3.41 L-15.76 2.93 L-16.56 2.39 L-17.14 1.77 L-17.48 1.04 L-17.60 0.00 L-17.48 -1.04 L-17.14 -1.77 L-16.56 -2.39 L-15.76 -2.93 L-14.73 -3.41 L-13.48 -3.83 L-12.01 -4.18 L-10.33 -4.48 L-8.41 -4.70 L-6.22 -4.87 L-3.68 -4.97 L-0.00 -5.00 L3.68 -4.97 L6.22 -4.87 L8.41 -4.70 L10.33 -4.48 L12.01 -4.18 L13.48 -3.83 L14.73 -3.41 L15.76 -2.93 L16.56 -2.39 L17.14 -1.77 L17.48 -1.04 Z" fill="#111"/>
<path transform="translate(75.5,392.2)" d="M17.60 0.00 L17.48 1.04 L17.14 1.77 L16.56 2.39 L15.76 2.93 L14.73 3.41 L13.48 3.83 L12.01 4.18 L10.33 4.48 L8.41 4.70 L6.22 4.87 L3.68 4.97 L0.00 5.00 L-3.68 4.97 L-6.22 4.87 L-8.41 4.70 L-10.33 4.48 L-12.01 4.18 L-13.48 3.83 L-14.73 3.41 L-15.76 2.93 L-16.56 2.39 L-17.14 1.77 L-17.48 1.04 L-17.60 0.00 L-17.48 -1.04 L-17.14 -1.77 L-16.56 -2.39 L-15.76 -2.93 L-14.73 -3.41 L-13.48 -3.83 L-12.01 -4.18 L-10.33 -4.48 L-8.41 -4.70 L-6.22 -4.87 L-3.68 -4.97 L-0.00 -5.00 L3.68 -4.97 L6.22 -4.87 L8.41 -4.70 L10.33 -4.48 L12.01 -4.18 L13.48 -3.83 L14.73 -3.41 L15.76 -2.93 L16.56 -2.39 L17.14 -1.77 L17.48 -1.04 Z" fill="#111"/>
<path transform="translate(170.3,392.6)" d="M17.60 0.00 L17.48 1.04 L17.14 1.77 L16.56 2.39 L15.76 2.93 L14.73 3.41 L13.48 3.83 L12.01 4.18 L10.33 4.48 L8.41 4.70 L6.22 4.87 L3.68 4.97 L0.00 5.00 L-3.68 4.97 L-6.22 4.87 L-8.41 4.70 L-10.33 4.48 L-12.01 4.18 L-13.48 3.83 L-14.73 3.41 L-15.76 2.93 L-16.56 2.39 L-17.14 1.77 L-17.48 1.04 L-17.60 0.00 L-17.48 -1.04 L-17.14 -1.77 L-16.56 -2.39 L-15.76 -2.93 L-14.73 -3.41 L-13.48 -3.83 L-12.01 -4.18 L-10.33 -4.48 L-8.41 -4.70 L-6.22 -4.87 L-3.68 -4.97 L-0.00 -5.00 L3.68 -4.97 L6.22 -4.87 L8.41 -4.70 L10.33 -4.48 L12.01 -4.18 L13.48 -3.83 L14.73 -3.41 L15.76 -2.93 L16.56 -2.39 L17.14 -1.77 L17.48 -1.04 Z" fill="#111"/>
<path transform="translate(95.5,449.75)" d="M17.60 0.00 L17.48 1.04 L17.14 1.77 L16.56 2.39 L15.76 2.93 L14.73 3.41 L13.48 3.83 L12.01 4.18 L10.33 4.48 L8.41 4.70 L6.22 4.87 L3.68 4.97 L0.00 5.00 L-3.68 4.97 L-6.22 4.87 L-8.41 4.70 L-10.33 4.48 L-12.01 4.18 L-13.48 3.83 L-14.73 3.41 L-15.76 2.93 L-16.56 2.39 L-17.14 1.77 L-17.48 1.04 L-17.60 0.00 L-17.48 -1.04 L-17.14 -1.77 L-16.56 -2.39 L-15.76 -2.93 L-14.73 -3.41 L-13.48 -3.83 L-12.01 -4.18 L-10.33 -4.48 L-8.41 -4.70 L-6.22 -4.87 L-3.68 -4.97 L-0.00 -5.00 L3.68 -4.97 L6.22 -4.87 L8.41 -4.70 L10.33 -4.48 L12.01 -4.18 L13.48 -3.83 L14.73 -3.41 L15.76 -2.93 L16.56 -2.39 L17.14 -1.77 L17.48 -1.04 Z" fill="#111"/>
<path transform="translate(125.5,474.5)" d="M17.60 0.00 L17.48 1.04 L17.14 1.77 L16.56 2.39 L15.76 2.93 L14.73 3.41 L13.48 3.83 L12.01 4.18 L10.33 4.48 L8.41 4.70 L6.22 4.87 L3.68 4.97 L0.00 5.00 L-3.68 4.97 L-6.22 4.87 L-8.41 4.70 L-10.33 4.48 L-12.01 4.18 L-13.48 3.83 L-14.73 3.41 L-15.76 2.93 L-16.56 2.39 L-17.14 1.77 L-17.48 1.04 L-17.60 0.00 L-17.48 -1.04 L-17.14 -1.77 L-16.56 -2.39 L-15.76 -2.93 L-14.73 -3.41 L-13.48 -3.83 L-12.01 -4.18 L-10.33 -4.48 L-8.41 -4.70 L-6.22 -4.87 L-3.68 -4.97 L-0.00 -5.00 L3.68 -4.97 L6.22 -4.87 L8.41 -4.70 L10.33 -4.48 L12.01 -4.18 L13.48 -3.83 L14.73 -3.41 L15.76 -2.93 L16.56 -2.39 L17.14 -1.77 L17.48 -1.04 Z" fill="#111"/>
<line x1="152.5" y1="208" x2="173" y2="140.5" stroke="#111" stroke-width="1.5"/>
<line x1="420" y1="43.6" x2="420" y2="492.2" stroke="#0a0f0f" stroke-width="5" stroke-linecap="round"/>
<line x1="419" y1="498.5" x2="415" y2="521.7" stroke="#111" stroke-width="1.4"/>
<polygon points="297.50,223.80 326.25,240.40 326.25,273.60 297.50,290.20 268.75,273.60 268.75,240.40" fill="#fff" stroke="#111" stroke-width="3.8" stroke-linejoin="miter"/><line x1="298.20" y1="232.29" x2="318.55" y2="244.04" stroke="#111" stroke-width="3.5" stroke-linecap="round"/><line x1="318.55" y1="269.96" x2="298.20" y2="281.71" stroke="#111" stroke-width="3.5" stroke-linecap="round"/><line x1="275.75" y1="268.75" x2="275.75" y2="245.25" stroke="#111" stroke-width="3.5" stroke-linecap="round"/><polyline points="297.5,223.8 297.5,198.8 318.8,188.5" fill="none" stroke="#111" stroke-width="3.8" stroke-linecap="round" stroke-linejoin="round"/><line x1="303.1" y1="202.8" x2="320.8" y2="193.3" stroke="#111" stroke-width="3.8" stroke-linecap="round"/>
<polygon points="533.50,169.10 562.25,185.70 562.25,218.90 533.50,235.50 504.75,218.90 504.75,185.70" fill="#fff" stroke="#111" stroke-width="3.8" stroke-linejoin="miter"/><line x1="534.20" y1="177.59" x2="554.55" y2="189.34" stroke="#111" stroke-width="3.5" stroke-linecap="round"/><line x1="554.55" y1="215.26" x2="534.20" y2="227.01" stroke="#111" stroke-width="3.5" stroke-linecap="round"/><line x1="511.75" y1="214.05" x2="511.75" y2="190.55" stroke="#111" stroke-width="3.5" stroke-linecap="round"/><polyline points="533.5,169.1 533.5,144.1 554.8,133.8" fill="none" stroke="#111" stroke-width="3.8" stroke-linecap="round" stroke-linejoin="round"/><line x1="539.1" y1="148.1" x2="556.8" y2="138.6" stroke="#111" stroke-width="3.8" stroke-linecap="round"/>
<polygon points="324.40,415.70 353.15,432.30 353.15,465.50 324.40,482.10 295.65,465.50 295.65,432.30" fill="#fff" stroke="#111" stroke-width="3.8" stroke-linejoin="miter"/><line x1="325.10" y1="424.19" x2="345.45" y2="435.94" stroke="#111" stroke-width="3.5" stroke-linecap="round"/><line x1="345.45" y1="461.86" x2="325.10" y2="473.61" stroke="#111" stroke-width="3.5" stroke-linecap="round"/><line x1="302.65" y1="460.65" x2="302.65" y2="437.15" stroke="#111" stroke-width="3.5" stroke-linecap="round"/><polyline points="324.4,415.7 324.4,389.5 342.5,363.8 318.6,363.8" fill="none" stroke="#111" stroke-width="3.4" stroke-linecap="round" stroke-linejoin="miter"/><ellipse cx="307.3" cy="363.6" rx="5.5" ry="5.6" fill="none" stroke="#111" stroke-width="3.3"/><line x1="309.9" y1="372.2" x2="323.4" y2="388.7" stroke="#111" stroke-width="2.2" stroke-dasharray="3.4,2.5"/>
<polygon points="537.00,378.60 565.75,395.20 565.75,428.40 537.00,445.00 508.25,428.40 508.25,395.20" fill="#fff" stroke="#111" stroke-width="3.8" stroke-linejoin="miter"/><line x1="537.70" y1="387.09" x2="558.05" y2="398.84" stroke="#111" stroke-width="3.5" stroke-linecap="round"/><line x1="558.05" y1="424.76" x2="537.70" y2="436.51" stroke="#111" stroke-width="3.5" stroke-linecap="round"/><line x1="515.25" y1="423.55" x2="515.25" y2="400.05" stroke="#111" stroke-width="3.5" stroke-linecap="round"/><polyline points="537.0,378.6 537.0,352.4 555.1,326.8 531.2,326.8" fill="none" stroke="#111" stroke-width="3.4" stroke-linecap="round" stroke-linejoin="miter"/><ellipse cx="520.0" cy="326.5" rx="5.5" ry="5.6" fill="none" stroke="#111" stroke-width="3.3"/><line x1="522.6" y1="335.1" x2="536.0" y2="351.6" stroke="#111" stroke-width="2.2" stroke-dasharray="3.4,2.5"/>
<line x1="485.6" y1="207.6" x2="362" y2="248.5" stroke="#111" stroke-width="2"/>
<polygon points="345.6,254 361,242.4 366,254.6" fill="#111"/>
<line x1="370.2" y1="446.1" x2="478" y2="417" stroke="#111" stroke-width="2"/>
<polygon points="493.9,412.5 474.6,411.6 478.1,423.4" fill="#111"/>
<path d="M261.7 259.9 C258.4 261.5 247.0 266.5 242.0 269.6 C237.0 272.7 235.1 275.3 231.6 278.4 C228.1 281.5 224.7 284.8 221.2 288.3 C217.7 291.9 213.7 295.9 210.8 299.7 C207.9 303.5 205.8 307.6 203.8 311.0 C201.8 314.4 200.7 316.8 198.6 320.3 C196.5 323.8 193.8 327.9 191.3 332.1 C188.9 336.3 186.1 341.0 183.9 345.4 C181.7 349.8 179.7 354.2 178.0 358.6 C176.3 363.0 174.7 367.2 173.6 371.9 C172.5 376.6 171.8 383.6 171.4 386.6 C171.0 389.6 171.2 389.4 171.2 390.0" fill="none" stroke="#111" stroke-width="2.3"/>
<path d="M243.8 365.0 C239.8 365.1 227.0 364.6 220.0 365.3 C213.0 366.0 206.6 367.4 201.6 369.0 C196.6 370.6 193.0 372.6 189.8 374.8 C186.6 377.0 184.2 379.8 182.4 382.2 C180.7 384.6 179.8 387.9 179.3 389.0" fill="none" stroke="#111" stroke-width="2.3"/>
<path d="M147.3 364.8 C148.7 366.0 153.9 369.5 155.9 371.9 C157.9 374.3 158.8 376.6 159.6 379.3 C160.4 382.0 160.9 385.0 161.0 388.1 C161.1 391.2 161.1 395.0 160.3 398.0 C159.6 401.0 157.9 403.7 156.5 406.0 C155.1 408.3 152.8 411.0 152.0 412.0" fill="none" stroke="#111" stroke-width="2.3"/>
<polygon points="138.5,422 149,407.6 157.6,417.2" fill="#111"/>
<path d="M180.0 396.0 C180.9 397.6 182.2 402.8 185.2 405.5 C188.2 408.2 193.4 410.6 198.0 412.0 C202.6 413.4 210.5 413.5 213.0 413.8" fill="none" stroke="#111" stroke-width="2.3"/>
<polygon points="230,414 211.8,407.6 212.9,420" fill="#111"/>
<path d="M169.3 396.0 C169.5 397.9 168.8 402.8 170.4 407.6 C172.0 412.4 174.0 419.5 178.9 424.6 C183.8 429.7 190.4 434.7 200.0 438.4 C209.6 442.1 224.9 444.9 236.2 447.0 C247.6 449.1 262.7 450.5 268.0 451.2" fill="none" stroke="#111" stroke-width="2.3"/>
<polygon points="284,452.25 266,445.4 266,457" fill="#111"/>
<text x="100.8" y="82.8" font-family="Liberation Sans" font-size="24.7" font-weight="bold" font-style="normal" text-anchor="start" fill="#111" >Wässrige Phase</text>
<text x="484.4" y="82.7" font-family="Liberation Sans" font-size="24.7" font-weight="bold" font-style="normal" text-anchor="start" fill="#111" >Organische Phase</text>
<text x="181" y="143.6" font-family="Liberation Sans" font-size="21" font-weight="normal" font-style="italic" text-anchor="start" fill="#111" stroke="#111" stroke-width="0.3">Styrolmono-</text>
<text x="181" y="169.1" font-family="Liberation Sans" font-size="21" font-weight="normal" font-style="italic" text-anchor="start" fill="#111" stroke="#111" stroke-width="0.3">oxygenase</text>
<text x="118" y="298.8" font-family="Liberation Sans" font-size="21.2" font-weight="bold" font-style="italic" text-anchor="middle" fill="#111" >Rekombinante</text>
<text x="117.7" y="324" font-family="Liberation Sans" font-size="21.2" font-weight="bold" font-style="italic" text-anchor="middle" fill="#111" >E.coli</text>
<text x="585.2" y="208.6" font-family="Liberation Sans" font-size="21.2" font-weight="normal" font-style="italic" text-anchor="start" fill="#111" stroke="#111" stroke-width="0.3">Styrol</text>
<text x="584.3" y="421.2" font-family="Liberation Sans" font-size="21.1" font-weight="normal" font-style="italic" text-anchor="start" fill="#111" stroke="#111" stroke-width="0.3">(<tspan font-style="normal">S</tspan>)-Styrolepoxid</text>
<text x="379.3" y="545.1" font-family="Liberation Sans" font-size="21.2" font-weight="normal" font-style="italic" text-anchor="start" fill="#111" stroke="#111" stroke-width="0.3">Phasen-</text>
<text x="364" y="569.2" font-family="Liberation Sans" font-size="21.2" font-weight="normal" font-style="italic" text-anchor="start" fill="#111" stroke="#111" stroke-width="0.3">grenzfläche</text>
<text x="84.6" y="371.1" font-family="Liberation Sans" font-size="21.3" font-weight="normal" font-style="italic" text-anchor="start" fill="#111" stroke="#111" stroke-width="0.3">NADH</text>
<text x="82.3" y="431" font-family="Liberation Sans" font-size="21.3" font-weight="normal" font-style="italic" text-anchor="start" fill="#111" stroke="#111" stroke-width="0.3">NAD<tspan font-size="14" font-style="normal" dy="-5.2">+</tspan></text>
<text x="236.8" y="423.8" font-family="Liberation Sans" font-size="21.3" font-weight="normal" font-style="italic" text-anchor="start" fill="#111" stroke="#111" stroke-width="0.3">H</text>
<text x="252.3" y="430.8" font-family="Liberation Sans" font-size="14" font-weight="normal" font-style="normal" text-anchor="start" fill="#111" stroke="#111" stroke-width="0.3">2</text>
<text x="0" y="0" font-family="Liberation Sans" font-size="21.2" font-weight="normal" font-style="normal" text-anchor="start" fill="#111" stroke="#111" stroke-width="0.3" transform="translate(260.2,424.1) skewX(-8)">O</text>
<text x="0" y="0" font-family="Liberation Sans" font-size="21.2" font-weight="normal" font-style="normal" text-anchor="start" fill="#111" stroke="#111" stroke-width="0.3" transform="translate(245.8,371.7) skewX(-8)">O</text>
<text x="262" y="378.6" font-family="Liberation Sans" font-size="14" font-weight="normal" font-style="normal" text-anchor="start" fill="#111" stroke="#111" stroke-width="0.3">2</text>
</svg>
</body></html>
